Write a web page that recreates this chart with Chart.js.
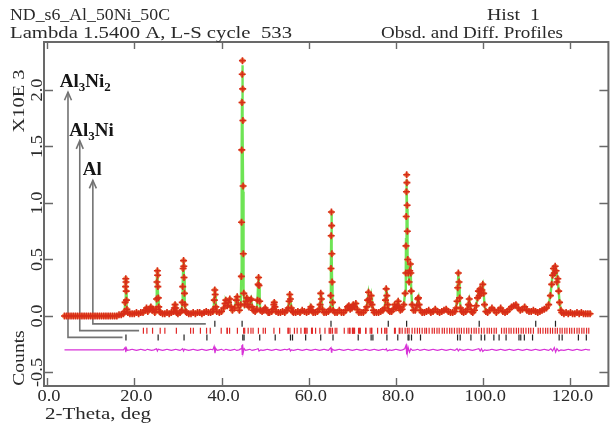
<!DOCTYPE html>
<html>
<head>
<meta charset="utf-8">
<script src="https://cdn.jsdelivr.net/npm/chart.js@4"></script>
<style>
  html, body { margin: 0; padding: 0; background: #fff; }
  canvas { display: block; }
</style>
</head>
<body>
<canvas id="grafico" width="614" height="427"></canvas>
<script>
// Ângulos 2-theta (graus) dos pontos
const doisTheta = [
  4.0, 4.5, 5.0, 5.5, 6.0, 6.5, 7.0, 7.5, 8.0, 8.5, 9.0, 9.5, 10.0, 10.5,
  11.0, 11.5, 12.0, 12.5, 13.0, 13.5, 14.0, 14.5, 15.0, 15.5, 16.0, 16.5, 17.0, 17.5,
  17.8, 17.9, 18.0, 18.05, 18.1, 18.15, 18.2, 18.3, 18.5,
  19.0, 19.5, 20.0, 20.5, 21.0, 21.5, 22.0, 22.5, 22.8, 23.1, 23.5, 23.8, 24.1, 24.4, 24.7,
  25.0, 25.1, 25.2, 25.3, 25.35, 25.4, 25.5, 25.6, 25.8,
  26.0, 26.5, 27.0, 27.5, 28.0, 28.5, 29.0, 29.2, 29.35, 29.5, 29.7, 30.0, 30.5,
  30.9, 31.0, 31.1, 31.2, 31.3, 31.35, 31.4, 31.5, 31.6, 31.8,
  32.0, 32.5, 33.0, 33.5, 34.0, 34.5, 35.0, 35.5, 36.0, 36.5, 37.0, 37.5, 38.0,
  38.2, 38.35, 38.45, 38.55, 38.7, 38.9, 39.5, 40.0, 40.5,
  40.8, 41.0, 41.3, 41.6, 41.9, 42.2, 42.5, 43.0, 43.4, 43.6, 43.8, 44.1, 44.4,
  44.55, 44.6, 44.65, 44.7, 44.75, 44.8, 44.85, 44.9, 44.95, 45.0, 45.1,
  45.3, 45.6, 45.8, 46.0, 46.3, 46.6, 46.8, 47.0, 47.3, 47.7,
  48.1, 48.25, 48.4, 48.5, 48.6, 48.75, 48.9,
  49.3, 49.7, 50.0, 50.3, 50.7, 51.0, 51.5, 51.8, 52.0, 52.1, 52.25, 52.5,
  53.0, 53.5, 54.0, 54.5, 55.0, 55.3, 55.5, 55.65, 55.8, 56.0, 56.3,
  56.5, 57.0, 57.5, 58.0, 58.5, 59.0, 59.5, 60.0, 60.3, 60.5, 60.7, 61.0, 61.5, 62.0, 62.4,
  62.6, 62.75, 62.9, 63.1, 63.5, 64.0, 64.5, 64.9,
  65.05, 65.1, 65.15, 65.2, 65.25, 65.3, 65.35, 65.45, 65.6,
  66.0, 66.5, 67.0, 67.5, 68.0, 68.5, 68.9, 69.2, 69.5, 69.9, 70.2, 70.5, 70.8, 71.1, 71.5, 72.0, 72.5, 73.0,
  73.3, 73.5, 73.7, 73.9, 74.1, 74.3, 74.5, 74.8,
  75.0, 75.5, 76.0, 76.5, 77.0, 77.4, 77.6, 77.75, 77.9, 78.1, 78.3,
  78.6, 79.0, 79.4, 79.7, 80.0, 80.3, 80.5, 80.7, 81.0, 81.4, 81.8, 82.1,
  82.25, 82.3, 82.35, 82.4, 82.45, 82.5, 82.55, 82.6, 82.7, 82.8,
  83.0, 83.15, 83.3, 83.4, 83.5, 83.7, 84.0, 84.4, 84.8, 85.0, 85.15, 85.3, 85.6,
  86.0, 86.5, 87.0, 87.5, 88.0, 88.5, 89.0, 89.5, 90.0, 90.5, 91.0, 91.5, 92.0, 92.5, 93.0, 93.5, 93.8,
  94.0, 94.15, 94.3, 94.45, 94.6, 94.8, 95.1, 95.5, 96.0, 96.4,
  96.6, 96.8, 97.0, 97.3, 97.6, 98.0, 98.4, 98.7, 98.9, 99.1, 99.3, 99.5, 99.7, 99.9, 100.1, 100.3, 100.6,
  101.0, 101.5, 102.0, 102.5, 103.0, 103.5, 104.0, 104.5, 105.0, 105.5, 106.0, 106.5, 107.0, 107.5, 108.0, 108.5, 109.0, 109.5, 110.0, 110.5,
  111.0, 111.5, 112.0, 112.5, 113.0, 113.5, 114.0, 114.5, 115.0, 115.4,
  115.7, 115.9, 116.1, 116.3, 116.5, 116.7, 116.9, 117.1, 117.3, 117.5, 117.8,
  118.0, 118.5, 119.0, 119.5, 120.0, 120.5, 121.0, 121.5, 122.0, 122.5, 123.0, 123.5, 124.0, 124.5
];

// Contagens observadas (x10^3)
const obsd = [
  0, 0, 0, 0, 0, 0, 0, 0, 0, 0, 0, 0, 0, 0,
  0, 0, 0, 0, 0, 0, 0, 0, 0, 0, 0, 0.01, 0.01, 0.02,
  0.04, 0.12, 0.26, 0.33, 0.30, 0.22, 0.14, 0.06, 0.03,
  0.02, 0.02, 0.02, 0.03, 0.02, 0.03, 0.03, 0.05, 0.07, 0.04, 0.06, 0.08, 0.05, 0.06, 0.03,
  0.06, 0.15, 0.30, 0.40, 0.36, 0.26, 0.16, 0.08, 0.04,
  0.03, 0.02, 0.02, 0.03, 0.02, 0.03, 0.04, 0.07, 0.10, 0.07, 0.03, 0.02, 0.03,
  0.05, 0.12, 0.26, 0.42, 0.49, 0.44, 0.34, 0.20, 0.10, 0.04,
  0.03, 0.02, 0.02, 0.03, 0.02, 0.03, 0.03, 0.02, 0.03, 0.04, 0.03, 0.03, 0.04,
  0.06, 0.14, 0.23, 0.19, 0.08, 0.04, 0.03, 0.04, 0.07,
  0.11, 0.14, 0.09, 0.12, 0.15, 0.08, 0.05, 0.07, 0.14, 0.17, 0.10, 0.05, 0.10,
  0.35, 0.83, 1.47, 1.89, 2.14, 2.26, 2.01, 1.73, 1.15, 0.55, 0.20,
  0.10, 0.13, 0.16, 0.10, 0.08, 0.14, 0.15, 0.08, 0.05, 0.04,
  0.06, 0.14, 0.28, 0.34, 0.27, 0.13, 0.05,
  0.04, 0.05, 0.07, 0.05, 0.03, 0.03, 0.04, 0.06, 0.10, 0.12, 0.08, 0.04,
  0.03, 0.03, 0.04, 0.03, 0.05, 0.07, 0.13, 0.19, 0.15, 0.07, 0.04,
  0.03, 0.03, 0.04, 0.03, 0.05, 0.04, 0.03, 0.04, 0.06, 0.08, 0.05, 0.03, 0.03, 0.04, 0.06,
  0.10, 0.20, 0.15, 0.06, 0.03, 0.03, 0.04, 0.06,
  0.18, 0.42, 0.71, 0.92, 0.80, 0.55, 0.30, 0.12, 0.05,
  0.03, 0.03, 0.05, 0.03, 0.03, 0.05, 0.08, 0.09, 0.06, 0.07, 0.10, 0.08, 0.11, 0.06, 0.03, 0.03, 0.03, 0.05,
  0.08, 0.14, 0.21, 0.15, 0.12, 0.18, 0.10, 0.05,
  0.03, 0.03, 0.03, 0.04, 0.05, 0.07, 0.14, 0.24, 0.18, 0.10, 0.05,
  0.04, 0.04, 0.06, 0.10, 0.07, 0.09, 0.13, 0.08, 0.05, 0.06, 0.10, 0.20,
  0.38, 0.62, 0.88, 1.10, 1.25, 1.18, 0.98, 0.75, 0.50, 0.38,
  0.30, 0.40, 0.46, 0.38, 0.22, 0.10, 0.05, 0.05, 0.09, 0.15, 0.16, 0.10, 0.05,
  0.03, 0.03, 0.04, 0.05, 0.03, 0.04, 0.06, 0.04, 0.03, 0.04, 0.05, 0.06, 0.04, 0.03, 0.03, 0.04, 0.07,
  0.13, 0.25, 0.38, 0.30, 0.16, 0.07, 0.04, 0.03, 0.04, 0.06,
  0.10, 0.15, 0.09, 0.04, 0.03, 0.05, 0.09, 0.16, 0.22, 0.18, 0.24, 0.20, 0.23, 0.28, 0.20, 0.10, 0.04,
  0.03, 0.05, 0.07, 0.05, 0.03, 0.05, 0.07, 0.04, 0.03, 0.04, 0.06, 0.08, 0.09, 0.10, 0.07, 0.05, 0.06, 0.08, 0.05, 0.04,
  0.04, 0.05, 0.04, 0.03, 0.04, 0.05, 0.06, 0.07, 0.10, 0.18,
  0.28, 0.36, 0.42, 0.38, 0.44, 0.40, 0.30, 0.33, 0.22, 0.12, 0.05,
  0.03, 0.02, 0.03, 0.02, 0.03, 0.02, 0.02, 0.03, 0.02, 0.03, 0.02, 0.02, 0.02, 0.02
];

// Perfil calculado (x10^3)
const calcd = [
  0, 0, 0, 0, 0, 0, 0, 0, 0, 0, 0, 0, 0, 0,
  0, 0, 0, 0, 0, 0, 0, 0, 0, 0, 0, 0.01, 0.01, 0.02,
  0.04, 0.13, 0.27, 0.32, 0.29, 0.21, 0.13, 0.06, 0.03,
  0.02, 0.02, 0.02, 0.03, 0.03, 0.03, 0.03, 0.05, 0.06, 0.05, 0.06, 0.07, 0.06, 0.05, 0.03,
  0.06, 0.16, 0.31, 0.39, 0.35, 0.26, 0.15, 0.08, 0.04,
  0.03, 0.02, 0.02, 0.03, 0.03, 0.03, 0.04, 0.07, 0.09, 0.07, 0.03, 0.02, 0.03,
  0.05, 0.13, 0.28, 0.43, 0.48, 0.43, 0.33, 0.19, 0.10, 0.04,
  0.03, 0.02, 0.02, 0.03, 0.03, 0.03, 0.03, 0.03, 0.03, 0.04, 0.03, 0.03, 0.04,
  0.07, 0.16, 0.22, 0.18, 0.08, 0.04, 0.03, 0.04, 0.07,
  0.11, 0.13, 0.10, 0.12, 0.14, 0.08, 0.05, 0.07, 0.14, 0.16, 0.10, 0.06, 0.11,
  0.38, 0.90, 1.52, 1.93, 2.15, 2.22, 1.98, 1.68, 1.10, 0.52, 0.20,
  0.10, 0.13, 0.15, 0.10, 0.08, 0.13, 0.15, 0.08, 0.05, 0.04,
  0.06, 0.15, 0.29, 0.33, 0.26, 0.13, 0.05,
  0.04, 0.05, 0.06, 0.05, 0.03, 0.03, 0.04, 0.06, 0.10, 0.11, 0.08, 0.04,
  0.03, 0.03, 0.04, 0.03, 0.05, 0.07, 0.13, 0.18, 0.15, 0.07, 0.04,
  0.03, 0.03, 0.04, 0.03, 0.04, 0.04, 0.03, 0.04, 0.06, 0.07, 0.05, 0.03, 0.03, 0.04, 0.06,
  0.11, 0.19, 0.15, 0.06, 0.03, 0.03, 0.04, 0.06,
  0.20, 0.45, 0.73, 0.90, 0.79, 0.55, 0.30, 0.12, 0.05,
  0.03, 0.03, 0.04, 0.03, 0.03, 0.05, 0.08, 0.09, 0.06, 0.07, 0.10, 0.08, 0.10, 0.06, 0.03, 0.03, 0.03, 0.05,
  0.08, 0.14, 0.20, 0.15, 0.12, 0.17, 0.10, 0.05,
  0.03, 0.03, 0.03, 0.04, 0.05, 0.07, 0.15, 0.23, 0.18, 0.10, 0.05,
  0.04, 0.04, 0.06, 0.09, 0.07, 0.09, 0.12, 0.08, 0.05, 0.06, 0.10, 0.21,
  0.42, 0.68, 0.92, 1.12, 1.21, 1.15, 0.95, 0.72, 0.48, 0.37,
  0.31, 0.41, 0.45, 0.37, 0.22, 0.10, 0.05, 0.05, 0.09, 0.14, 0.16, 0.10, 0.05,
  0.03, 0.03, 0.04, 0.04, 0.04, 0.04, 0.05, 0.04, 0.03, 0.04, 0.05, 0.05, 0.04, 0.03, 0.03, 0.04, 0.07,
  0.14, 0.26, 0.37, 0.30, 0.16, 0.07, 0.04, 0.03, 0.04, 0.06,
  0.10, 0.14, 0.09, 0.04, 0.03, 0.05, 0.09, 0.16, 0.21, 0.19, 0.23, 0.21, 0.24, 0.27, 0.20, 0.10, 0.04,
  0.03, 0.05, 0.06, 0.05, 0.04, 0.05, 0.06, 0.04, 0.03, 0.04, 0.06, 0.08, 0.09, 0.09, 0.07, 0.05, 0.06, 0.07, 0.05, 0.04,
  0.04, 0.05, 0.04, 0.03, 0.04, 0.05, 0.06, 0.07, 0.10, 0.18,
  0.29, 0.37, 0.41, 0.39, 0.42, 0.40, 0.31, 0.31, 0.22, 0.12, 0.05,
  0.03, 0.02, 0.02, 0.02, 0.02, 0.02, 0.02, 0.02, 0.02, 0.02, 0.02, 0.02, 0.02, 0.02
];

// Curva de diferença (deslocada), com sua própria grade de ângulos
const difAng = [
  4, 5, 6, 7, 8, 9, 10, 11, 12, 13, 14, 15, 16, 17,
  17.5, 17.9, 18.05, 18.2, 18.4, 19.0, 19.5, 20.0, 20.5, 21.0, 21.5, 22.0, 22.5, 23.0, 23.5, 24.0, 24.5,
  25.1, 25.3, 25.5, 26.0, 26.5, 27.0, 27.5, 28.0, 28.5, 29.0, 29.5, 30.0, 30.5, 31.1, 31.3, 31.5,
  32.0, 32.5, 33.0, 33.5, 34.0, 34.5, 35.0, 35.5, 36.0, 36.5, 37.0, 37.5, 38.0, 38.3, 38.5, 38.7,
  39.0, 39.5, 40.0, 40.5, 41.0, 41.5, 42.0, 42.5, 43.0, 43.5, 44.0, 44.5,
  44.65, 44.75, 44.85, 44.95, 45.2, 45.5, 46.0, 46.5, 47.0, 47.5, 48.0, 48.4, 48.6,
  49.0, 49.5, 50.0, 50.5, 51.0, 51.5, 52.0, 52.5, 53.0, 53.5, 54.0, 54.5, 55.0, 55.6, 55.8,
  56.0, 56.5, 57.0, 57.5, 58.0, 58.5, 59.0, 59.5, 60.0, 60.5, 61.0, 61.5, 62.0, 62.5, 63.0, 63.5, 64.0, 64.5,
  65.1, 65.2, 65.3, 65.6, 66.0, 66.5, 67.0, 67.5, 68.0, 68.5, 69.0, 69.5, 70.0, 70.5, 71.0, 71.5,
  72.0, 72.5, 73.0, 73.5, 74.0, 74.5, 75.0, 75.5, 76.0, 76.5, 77.0, 77.5, 77.8, 78.0, 78.5,
  79.0, 79.5, 80.0, 80.5, 81.0, 81.5, 82.0, 82.3, 82.4, 82.5, 82.6, 82.8, 83.1, 83.4, 83.8,
  84.5, 85.0, 85.5, 86.0, 86.5, 87.0, 87.5, 88.0, 88.5, 89.0, 89.5, 90.0, 90.5, 91.0, 91.5,
  92.0, 92.5, 93.0, 93.5, 94.0, 94.3, 94.6, 95.0, 95.5, 96.0, 96.5, 97.0, 97.5, 98.0, 98.5,
  99.0, 99.3, 99.6, 99.9, 100.3, 100.8, 101.5, 102.0, 102.5, 103.0, 103.5, 104.0, 104.5, 105.0,
  105.5, 106.0, 106.5, 107.0, 107.5, 108.0, 108.5, 109.0, 109.5, 110.0, 110.5, 111.0, 111.5,
  112.0, 112.5, 113.0, 113.5, 114.0, 114.5, 115.0, 115.5, 115.9, 116.3, 116.6, 116.9, 117.3, 117.8,
  118.5, 119.0, 119.5, 120.0, 120.5, 121.0, 121.5, 122.0, 122.5, 123.0, 123.5, 124.0, 124.5
];
const difVal = [
  -0.30, -0.30, -0.30, -0.30, -0.30, -0.30, -0.30, -0.30, -0.30, -0.30, -0.30, -0.30, -0.30, -0.30,
  -0.30, -0.28, -0.32, -0.285, -0.305, -0.30, -0.295, -0.30, -0.305, -0.30, -0.295, -0.30, -0.305, -0.295, -0.30, -0.305, -0.30,
  -0.29, -0.31, -0.295, -0.30, -0.305, -0.30, -0.295, -0.30, -0.305, -0.30, -0.295, -0.30, -0.305, -0.29, -0.31, -0.295,
  -0.30, -0.305, -0.30, -0.295, -0.30, -0.305, -0.30, -0.295, -0.30, -0.305, -0.30, -0.295, -0.30, -0.27, -0.33, -0.29,
  -0.305, -0.30, -0.295, -0.305, -0.295, -0.30, -0.305, -0.30, -0.295, -0.305, -0.30, -0.29,
  -0.26, -0.34, -0.25, -0.33, -0.29, -0.305, -0.30, -0.295, -0.305, -0.30, -0.295, -0.29, -0.31,
  -0.30, -0.305, -0.30, -0.295, -0.30, -0.305, -0.30, -0.295, -0.30, -0.305, -0.30, -0.295, -0.30, -0.29, -0.31,
  -0.30, -0.305, -0.30, -0.295, -0.30, -0.305, -0.30, -0.295, -0.30, -0.305, -0.30, -0.295, -0.30, -0.305, -0.30, -0.295, -0.30, -0.305,
  -0.28, -0.32, -0.29, -0.30, -0.305, -0.30, -0.295, -0.30, -0.305, -0.30, -0.295, -0.30, -0.305, -0.30, -0.295, -0.30,
  -0.305, -0.30, -0.295, -0.30, -0.305, -0.30, -0.295, -0.30, -0.305, -0.30, -0.295, -0.30, -0.29, -0.31, -0.30,
  -0.305, -0.30, -0.295, -0.30, -0.305, -0.30, -0.29, -0.26, -0.34, -0.25, -0.33, -0.28, -0.32, -0.29, -0.305,
  -0.30, -0.295, -0.305, -0.30, -0.295, -0.30, -0.305, -0.30, -0.295, -0.30, -0.305, -0.30, -0.295, -0.30, -0.305,
  -0.30, -0.295, -0.30, -0.305, -0.29, -0.31, -0.295, -0.30, -0.305, -0.30, -0.295, -0.30, -0.305, -0.30, -0.295,
  -0.29, -0.31, -0.29, -0.315, -0.30, -0.305, -0.30, -0.295, -0.30, -0.305, -0.30, -0.295, -0.30, -0.305,
  -0.30, -0.295, -0.30, -0.305, -0.30, -0.295, -0.30, -0.305, -0.30, -0.295, -0.30, -0.305, -0.30,
  -0.295, -0.30, -0.305, -0.30, -0.295, -0.30, -0.305, -0.29, -0.31, -0.28, -0.32, -0.29, -0.31, -0.30,
  -0.305, -0.30, -0.295, -0.30, -0.305, -0.30, -0.295, -0.30, -0.305, -0.30, -0.295, -0.30, -0.30
];

// Posições das reflexões de cada fase (2-theta)
const reflAl = [38.47, 44.72, 65.10, 78.23, 82.44, 99.08, 112.04, 116.57];
const reflAl3Ni = [
  22.09, 22.89, 24.19, 25.94, 27.01, 29.65, 32.91, 33.54, 35.16, 36.57, 37.42, 39.93, 41.27, 41.33,
  41.85, 43.64, 45.07, 45.31, 46.11, 46.75, 47.23, 48.46, 49.56, 50.06, 52.02, 53.32, 55.25, 55.30,
  55.68, 56.72, 57.34, 58.21, 59.02, 59.18, 59.37, 59.62, 60.64, 60.77, 60.82, 61.57, 62.55, 63.72,
  64.67, 64.88, 65.06, 65.44, 66.06, 66.44, 68.14, 69.02, 69.39, 69.44, 70.01, 70.13, 70.18, 70.37,
  70.50, 71.42, 71.65, 71.82, 73.06, 73.10, 74.08, 74.37, 74.47, 75.78, 76.69, 77.41, 77.72, 77.90,
  79.66, 79.84, 80.74, 80.90, 81.42, 82.1, 82.6, 83.0, 83.7, 84.3, 84.9, 85.4, 86.0, 86.6, 87.0,
  87.6, 88.3, 88.8, 89.4, 89.9, 90.6, 91.1, 91.7, 92.3, 92.8, 93.4, 94.0, 94.5, 95.0, 95.6, 96.2,
  96.7, 97.3, 97.9, 98.4, 99.0, 99.6, 100.2, 100.9, 101.4, 101.9, 102.5, 103.0, 104.2, 104.8, 105.3,
  105.9, 106.4, 107.0, 107.6, 108.1, 108.7, 109.2, 109.8, 110.4, 110.9, 111.5, 112.6, 113.1, 113.7,
  114.3, 114.8, 115.4, 115.9, 116.5, 117.0, 117.6, 118.1, 118.7, 119.2, 119.8, 120.3, 120.9, 121.5,
  122.0, 122.6, 123.1, 123.7, 124.2
];
const reflAl3Ni2 = [
  18.09, 25.47, 31.41, 36.65, 44.88, 45.17, 48.76, 52.31, 55.81, 56.28, 59.29, 62.74, 65.56, 71.34,
  74.30, 74.71, 77.92, 80.41, 82.77, 82.98, 83.56, 85.62, 94.12, 94.72, 97.18, 99.54, 100.34, 102.44,
  103.64, 105.24, 108.20, 108.61, 109.43, 111.31, 117.41, 118.10, 121.82, 123.64
];

const xTicks = [0, 20, 40, 60, 80, 100, 120];
const yTicks = [-0.5, 0, 0.5, 1.0, 1.5, 2.0];

const SERIF = '"Liberation Serif", "DejaVu Serif", serif';

function pares(xs, ys) {
  const n = Math.min(xs.length, ys.length);
  const out = [];
  for (let i = 0; i < n; i++) out.push({ x: xs[i], y: ys[i] });
  return out;
}

function linhaRefl(posicoes, nivel) {
  return posicoes.map(v => ({ x: v, y: nivel }));
}

// texto com esticamento horizontal (fonte do GSAS é larga)
function texto(ctx, str, x, y, tam, esticar, alinhar, girar) {
  ctx.save();
  ctx.translate(x, y);
  if (girar) ctx.rotate(-Math.PI / 2);
  ctx.scale(esticar, 1);
  ctx.font = tam + 'px ' + SERIF;
  ctx.textAlign = alinhar;
  ctx.textBaseline = 'alphabetic';
  ctx.fillText(str, 0, 0);
  ctx.restore();
}

// texto esticado para ocupar a largura medida na figura
function textoLargo(ctx, str, x, y, tam, largura) {
  ctx.font = tam + 'px ' + SERIF;
  const w = ctx.measureText(str).width;
  texto(ctx, str, x, y, tam, largura / w, 'left', false);
}

// rótulo de fase com índices (ex.: Al3Ni2)
function rotuloFase(ctx, partes, x, y) {
  let px = x;
  partes.forEach(([t, sub]) => {
    ctx.font = sub ? 'bold 13px ' + SERIF : 'bold 19px ' + SERIF;
    ctx.fillText(t, px, sub ? y + 4 : y);
    px += ctx.measureText(t).width;
  });
}

// setas e linhas-guia das fases
const setasPlugin = {
  id: 'setas',
  beforeDatasetsDraw(chart) {
    const { ctx, scales: { x, y } } = chart;
    const setas = [
      { xs: 4.8, topo: 1.98, nivel: -0.19, fim: 17.3, rot: [['Al', 0], ['3', 1], ['Ni', 0], ['2', 1]], rx: 2.9, ry: 2.03 },
      { xs: 7.5, topo: 1.55, nivel: -0.13, fim: 21.1, rot: [['Al', 0], ['3', 1], ['Ni', 0]], rx: 5.1, ry: 1.59 },
      { xs: 10.5, topo: 1.20, nivel: -0.07, fim: 36.4, rot: [['Al', 0]], rx: 8.2, ry: 1.25 }
    ];
    ctx.save();
    ctx.strokeStyle = 'rgb(115,115,115)';
    ctx.lineWidth = 1.6;
    setas.forEach(s => {
      const px = x.getPixelForValue(s.xs);
      const pt = y.getPixelForValue(s.topo);
      const pn = y.getPixelForValue(s.nivel);
      const pf = x.getPixelForValue(s.fim);
      ctx.beginPath();
      ctx.moveTo(px, pt);
      ctx.lineTo(px, pn);
      ctx.lineTo(pf, pn);
      ctx.stroke();
      ctx.beginPath();
      ctx.moveTo(px - 3.5, pt + 8);
      ctx.lineTo(px, pt);
      ctx.lineTo(px + 3.5, pt + 8);
      ctx.stroke();
    });
    ctx.fillStyle = '#151515';
    ctx.textBaseline = 'alphabetic';
    ctx.textAlign = 'left';
    setas.forEach(s => rotuloFase(ctx, s.rot, x.getPixelForValue(s.rx), y.getPixelForValue(s.ry)));
    ctx.restore();
  }
};

// moldura, marcas e textos no estilo GSAS
const molduraPlugin = {
  id: 'moldura',
  afterDatasetsDraw(chart) {
    const { ctx, chartArea: a, scales: { x, y } } = chart;
    ctx.save();
    ctx.strokeStyle = 'rgb(105,105,105)';
    ctx.lineWidth = 2;
    ctx.strokeRect(a.left, a.top, a.right - a.left, a.bottom - a.top);

    ctx.lineWidth = 1.4;
    ctx.beginPath();
    xTicks.forEach(v => {
      const px = Math.round(x.getPixelForValue(v)) + 0.5;
      ctx.moveTo(px, a.bottom); ctx.lineTo(px, a.bottom - 8);
      ctx.moveTo(px, a.top); ctx.lineTo(px, a.top + 7);
    });
    yTicks.forEach(v => {
      const py = Math.round(y.getPixelForValue(v)) + 0.5;
      ctx.moveTo(a.left, py); ctx.lineTo(a.left + 9, py);
      ctx.moveTo(a.right, py); ctx.lineTo(a.right - 9, py);
    });
    ctx.stroke();

    ctx.fillStyle = '#2a2a2a';
    xTicks.forEach(v => texto(ctx, v.toFixed(1), x.getPixelForValue(v) + 2, 401, 16, 1.15, 'center', false));
    yTicks.forEach(v => texto(ctx, v.toFixed(1), 42, y.getPixelForValue(v), 16, 1.15, 'center', true));

    texto(ctx, 'X10E 3', 24, 101, 17, 1.2, 'center', true);
    texto(ctx, 'Counts', 24, 358, 17, 1.15, 'center', true);
    textoLargo(ctx, '2-Theta, deg', 45, 419, 16, 106);

    textoLargo(ctx, 'ND_s6_Al_50Ni_50C', 10, 20, 16, 160);
    textoLargo(ctx, 'Lambda 1.5400 A, L-S cycle  533', 10, 38, 16, 282);
    textoLargo(ctx, 'Hist  1', 487, 20, 16, 53);
    textoLargo(ctx, 'Obsd. and Diff. Profiles', 381, 38, 16, 182);
    ctx.restore();
  }
};

const ctx = document.getElementById('grafico').getContext('2d');
const grafico = new Chart(ctx, {
  type: 'scatter',
  data: {
    datasets: [
      {
        label: 'Obsd',
        data: pares(doisTheta, obsd),
        showLine: false,
        pointStyle: 'cross',
        pointRadius: 3.5,
        pointBorderWidth: 1.6,
        pointBorderColor: 'rgb(215,45,25)',
        order: 0
      },
      {
        label: 'Obsd fundo',
        data: pares(doisTheta, obsd),
        showLine: false,
        pointStyle: 'circle',
        pointRadius: 2.6,
        pointBorderWidth: 0,
        pointBackgroundColor: 'rgba(238,110,45,0.85)',
        order: 0.5
      },
      {
        label: 'Calc',
        data: pares(doisTheta, calcd),
        showLine: true,
        borderColor: 'rgb(110,228,85)',
        borderWidth: 2.4,
        pointRadius: 0,
        tension: 0,
        order: 1
      },
      {
        label: 'Diff',
        data: pares(difAng, difVal),
        showLine: true,
        borderColor: 'rgb(215,50,215)',
        borderWidth: 1.2,
        pointRadius: 0,
        tension: 0,
        order: 2
      },
      {
        label: 'Al',
        data: linhaRefl(reflAl, -0.07),
        pointStyle: 'line',
        pointRotation: 90,
        pointRadius: 3,
        pointBorderWidth: 1.2,
        pointBorderColor: '#222',
        order: 3
      },
      {
        label: 'Al3Ni',
        data: linhaRefl(reflAl3Ni, -0.13),
        pointStyle: 'line',
        pointRotation: 90,
        pointRadius: 3,
        pointBorderWidth: 1.2,
        pointBorderColor: 'rgb(225,40,40)',
        order: 3
      },
      {
        label: 'Al3Ni2',
        data: linhaRefl(reflAl3Ni2, -0.19),
        pointStyle: 'line',
        pointRotation: 90,
        pointRadius: 3,
        pointBorderWidth: 1.2,
        pointBorderColor: '#222',
        order: 3
      }
    ]
  },
  options: {
    responsive: false,
    animation: false,
    events: [],
    layout: { padding: { left: 44, top: 42, right: 1, bottom: 41 } },
    plugins: { legend: { display: false }, tooltip: { enabled: false } },
    scales: {
      x: { type: 'linear', min: -0.7, max: 128.7, display: false },
      y: { type: 'linear', min: -0.62, max: 2.425, display: false }
    }
  },
  plugins: [setasPlugin, molduraPlugin]
});
</script>
</body>
</html>
